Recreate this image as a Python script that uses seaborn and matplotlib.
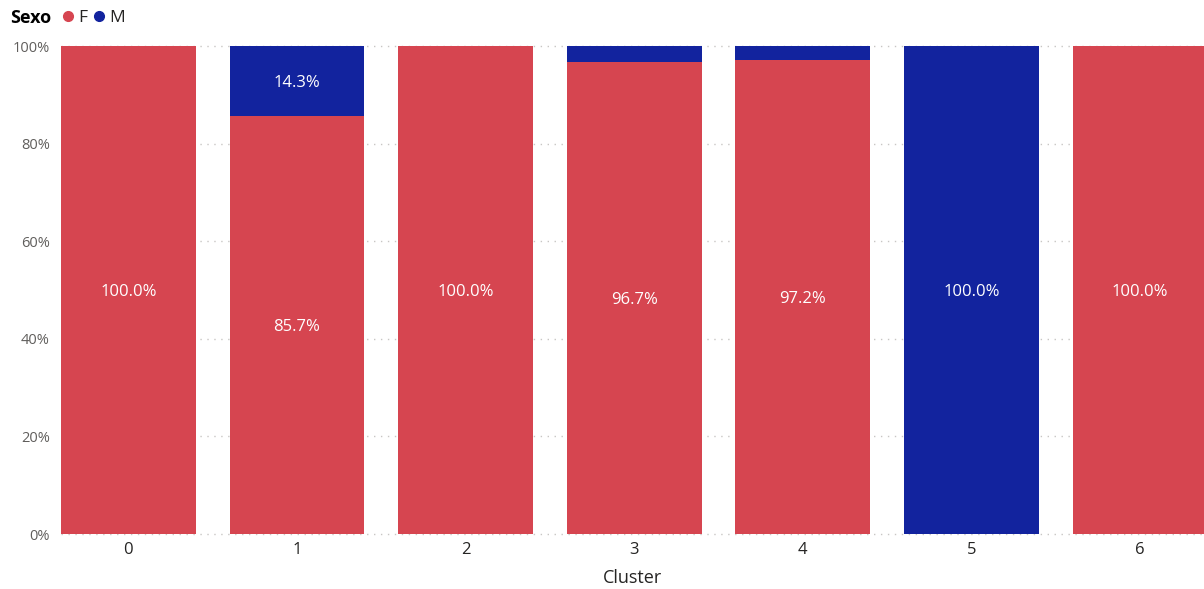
import matplotlib
matplotlib.use("Agg")
import matplotlib.pyplot as plt
from matplotlib.lines import Line2D
import seaborn as sns
import pandas as pd

# Share of each sex per cluster (percent)
clusters = ["0", "1", "2", "3", "4", "5", "6"]
pct_f = [100.0, 85.7, 100.0, 96.7, 97.2, 0.0, 100.0]
pct_m = [0.0, 14.3, 0.0, 3.3, 2.8, 100.0, 0.0]
y_ticks = [0, 20, 40, 60, 80, 100]

COLOR_F = "#D64550"
COLOR_M = "#12239E"
TICK_COLOR = "#605E5C"
TITLE_COLOR = "#252423"

sns.set_theme(style="white")
plt.rcParams["font.family"] = ["Open Sans", "DejaVu Sans"]

df = pd.DataFrame({"Cluster": clusters, "F": pct_f, "M": pct_m})
df["top"] = df["F"] + df["M"]

fig = plt.figure(figsize=(12.04, 5.89), dpi=100)
ax = fig.add_axes([61 / 1204, 55 / 589, 1 - 61 / 1204, (534 - 46) / 589])

# Stacked bars: full height in M colour, F portion on top of it from zero
sns.barplot(data=df, x="Cluster", y="top", color=COLOR_M, width=0.8,
            saturation=1, linewidth=0, ax=ax, zorder=2)
sns.barplot(data=df, x="Cluster", y="F", color=COLOR_F, width=0.8,
            saturation=1, linewidth=0, ax=ax, zorder=3)

# Segment labels, only where the segment is tall enough
for i, (f, m) in enumerate(zip(pct_f, pct_m)):
    if f >= 5:
        ax.text(i, f / 2, f"{f:.1f}%", ha="center", va="center_baseline",
                color="white", fontsize=12, zorder=4)
    if m >= 5:
        ax.text(i, f + m / 2, f"{m:.1f}%", ha="center", va="center_baseline",
                color="white", fontsize=12, zorder=4)

ax.set_xlim(-0.4, 6.38)
ax.set_ylim(0, 100)
ax.set_yticks(y_ticks)
ax.set_yticklabels([f"{t}%" for t in y_ticks])
for t in y_ticks:
    ax.axhline(t, color="#C8C6C4", linestyle=(0, (1, 4)), linewidth=1,
               zorder=1, clip_on=False)

for s in ax.spines.values():
    s.set_visible(False)
ax.tick_params(axis="y", length=0, pad=8, labelsize=10.5, labelcolor=TICK_COLOR)
ax.tick_params(axis="x", length=0, pad=6, labelsize=12, labelcolor=TITLE_COLOR)
ax.set_ylabel("")
ax.set_xlabel("Cluster", fontsize=13, color=TITLE_COLOR, labelpad=8)

# Legend header
fig.text(10 / 1204, 1 - 18 / 589, "Sexo", fontsize=13, fontweight="bold",
         color="#000000", ha="left", va="center")
handles = [
    Line2D([], [], marker="o", linestyle="", markersize=7,
           markerfacecolor=COLOR_F, markeredgecolor=COLOR_F, label="F"),
    Line2D([], [], marker="o", linestyle="", markersize=7,
           markerfacecolor=COLOR_M, markeredgecolor=COLOR_M, label="M"),
]
fig.legend(handles=handles, loc="center left",
           bbox_to_anchor=(63 / 1204, 1 - 18 / 589), ncol=2, frameon=False,
           fontsize=12.5, handlelength=0.6, handletextpad=0.3,
           columnspacing=0.35, borderaxespad=0, borderpad=0,
           labelcolor=TITLE_COLOR)

fig.savefig("out.png", dpi=100)
